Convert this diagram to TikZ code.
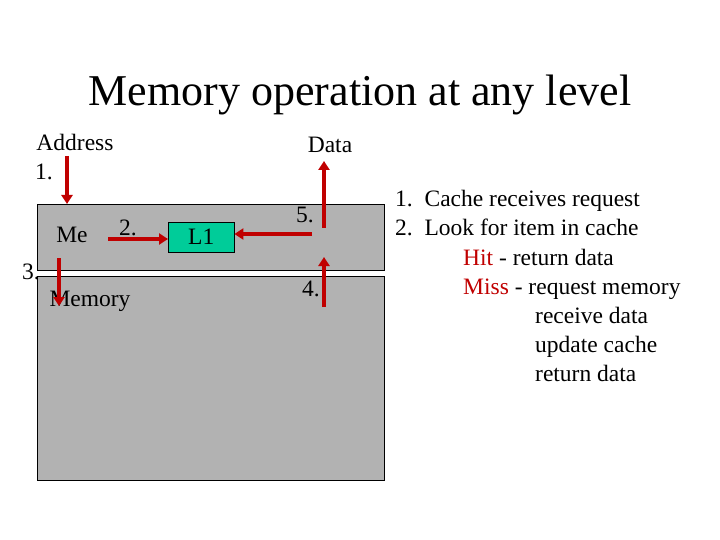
\documentclass[tikz,border=0pt]{standalone}
\usepackage{fontspec}
\setmainfont{Liberation Serif}
\usetikzlibrary{arrows.meta}
\definecolor{dred}{RGB}{192,0,0}
\definecolor{boxgray}{RGB}{178,178,178}
\definecolor{lgreen}{RGB}{0,204,153}
\begin{document}
\begin{tikzpicture}[x=1pt,y=-1pt,
  arr/.style={draw=dred,line width=4pt,-{Triangle[length=9pt,width=11pt]}},
  lbl/.style={font=\fontsize{23.5}{28}\selectfont,inner sep=0pt},
  txt/.style={font=\fontsize{23.5}{28}\selectfont,inner sep=0pt,anchor=base west}]
\useasboundingbox (0,0) rectangle (720,540);
\node[font=\fontsize{44}{52}\selectfont,inner sep=0pt] (title) at (360,95) {Memory operation at any level};
\node[draw=black,fill=boxgray,minimum width=347pt,minimum height=66pt,anchor=north west,inner sep=0pt] (cache) at (37,204) {};
\node[draw=black,fill=boxgray,minimum width=347pt,minimum height=204pt,anchor=north west,inner sep=0pt] (mem) at (37,276) {};
\node[draw=black,fill=lgreen,minimum width=66pt,minimum height=30pt,anchor=north west,inner sep=0pt] (l1) at (168,222) {};
\node[lbl] at (l1.center) {L1};
\node[lbl] (addr) at (75,142) {Address};
\node[lbl] (n1) at (44,172) {1.};
\node[lbl] (me) at (72,235) {Me};
\node[lbl] (n2) at (128,228) {2.};
\node[lbl] (n5) at (305,215) {5.};
\node[lbl] (n4) at (311,289) {4.};
\node[lbl] (n3) at (31,272) {3.};
\node[lbl] (memt) at (90,301) {Memory};
\node[lbl] (data) at (330,145) {Data};
\coordinate (a1s) at (67,156); \coordinate (a1e) at (67,204);
\coordinate (a2s) at (108,239); \coordinate (a2e) at (l1.west|-0,239);
\coordinate (a5s) at (312,234); \coordinate (a5e) at (l1.east|-0,234);
\coordinate (ads) at (324,228); \coordinate (ade) at (324,161);
\coordinate (a4s) at (324,307); \coordinate (a4e) at (324,257);
\coordinate (a3s) at (59,258); \coordinate (a3e) at (59,306);
\draw[arr] (a1s) -- (a1e);
\draw[arr] (a2s) -- (a2e);
\draw[arr] (a5s) -- (a5e);
\draw[arr] (ads) -- (ade);
\draw[arr] (a4s) -- (a4e);
\draw[arr] (a3s) -- (a3e);
\node[txt] (r1) at (395,207) {1.\ \ Cache receives request};
\node[txt] (r2) at (395,236) {2.\ \ Look for item in cache};
\node[txt] (r3) at (463,265) {\textcolor{dred}{Hit} - return data};
\node[txt] (r4) at (463,294) {\textcolor{dred}{Miss} - request memory};
\node[txt] (r5) at (535,323) {receive data};
\node[txt] (r6) at (535,352) {update cache};
\node[txt] (r7) at (535,381) {return data};
\end{tikzpicture}
\end{document}
